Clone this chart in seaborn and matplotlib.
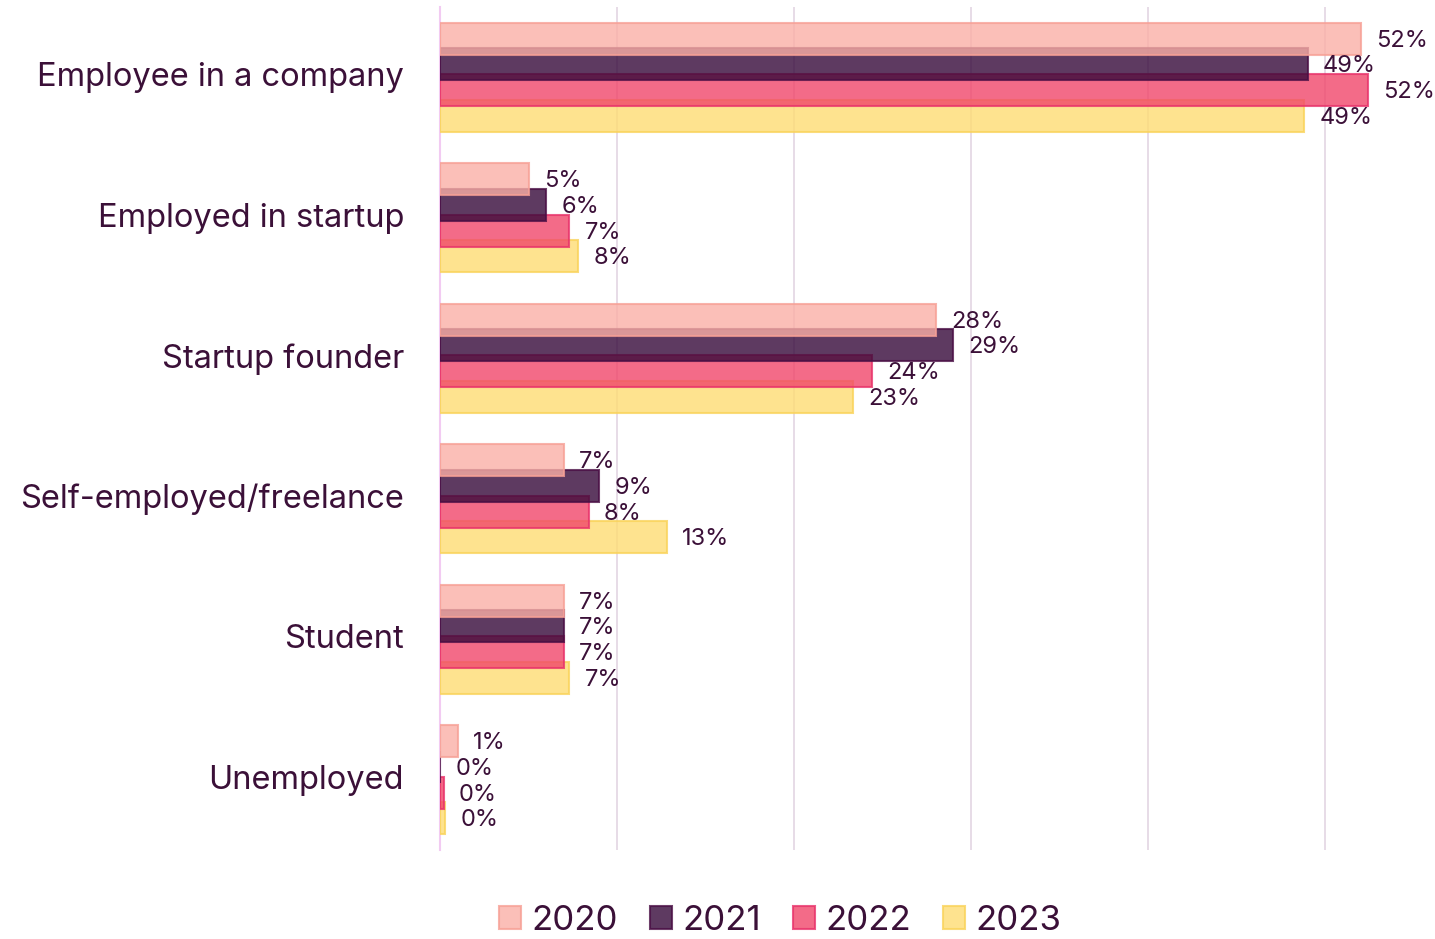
import matplotlib
matplotlib.use("Agg")
import matplotlib.pyplot as plt
import matplotlib.transforms as mtransforms
import seaborn as sns
import pandas as pd
from matplotlib.patches import Patch

categories = ["Employee in a company", "Employed in startup", "Startup founder",
              "Self-employed/freelance", "Student", "Unemployed"]
years = ["2020", "2021", "2022", "2023"]
values_2020 = [52.0, 5.0, 28.0, 7.0, 7.0, 1.0]
values_2021 = [49.0, 6.0, 29.0, 9.0, 7.0, 0.0]
values_2022 = [52.4, 7.3, 24.4, 8.4, 7.0, 0.2]
values_2023 = [48.8, 7.8, 23.3, 12.8, 7.3, 0.3]

face_colors = ["#FAAFA6", "#36093A", "#F1466A", "#FEDC73"]
edge_colors = ["#F7A096", "#4A0F45", "#E8326A", "#F9D35A"]
text_color = "#3B1038"

series = {"2020": values_2020, "2021": values_2021, "2022": values_2022, "2023": values_2023}
df = pd.DataFrame([
    {"category": c, "year": y, "value": v}
    for y in years for c, v in zip(categories, series[y])
])

sns.set_theme(style="white")
plt.rcParams["font.family"] = ["Inter", "DejaVu Sans"]

fig = plt.figure(figsize=(14.35, 9.39), dpi=100)
ax = fig.add_axes([440 / 1435, 1 - 850 / 939, (1435 - 440) / 1435, (850 - 7) / 939])

sns.barplot(data=df, y="category", x="value", hue="year", hue_order=years,
            order=categories, palette=face_colors, orient="h", width=0.733,
            dodge=True, saturation=1, linewidth=1.5, legend=False, ax=ax, errorbar=None)

bar_h = 0.229
for i, cont in enumerate(ax.containers):
    for patch in cont.patches:
        cy = patch.get_y() + patch.get_height() / 2
        patch.set_height(bar_h)
        patch.set_y(cy - bar_h / 2)
        patch.set_alpha(0.8)
        patch.set_edgecolor(edge_colors[i])
        patch.set_zorder(10 - i)
    texts = ax.bar_label(cont, fmt="{:.0f}%", padding=11, fontsize=17,
                         color=text_color, zorder=20)
    for t in texts:
        ox, oy = t.xyann
        t.xyann = (ox, oy - 1.5)

ax.set_xlim(0, 56.2)
ax.set_ylim(5.5, -0.5)
ax.set_xticks([0, 10, 20, 30, 40, 50])
ax.set_xticklabels([])
ax.grid(axis="x", color="#E3D6E3", linewidth=1.2)
ax.grid(axis="y", visible=False)
ax.set_axisbelow(True)
for side in ["top", "right", "bottom"]:
    ax.spines[side].set_visible(False)
ax.spines["left"].set_color("#F2CBF2")
ax.spines["left"].set_linewidth(1.5)
ax.tick_params(axis="y", length=0, pad=26, labelsize=23.5, labelcolor=text_color)
ax.tick_params(axis="x", length=0)
ax.set_xlabel("")
ax.set_ylabel("")

cat_shift = mtransforms.ScaledTranslation(0, 3 / 100, fig.dpi_scale_trans)
for lbl in ax.get_yticklabels():
    lbl.set_transform(lbl.get_transform() + cat_shift)

handles = [Patch(facecolor=fc, edgecolor=ec, alpha=0.8, linewidth=1.5)
           for fc, ec in zip(face_colors, edge_colors)]
fig.legend(handles, years, loc="center", bbox_to_anchor=(780 / 1435, 1 - 921 / 939),
           ncol=4, frameon=False, fontsize=25, labelcolor=text_color,
           handlelength=0.63, handleheight=0.63, handletextpad=0.3, columnspacing=0.92,
           borderpad=0.1)

fig.savefig("out.png", dpi=100)
